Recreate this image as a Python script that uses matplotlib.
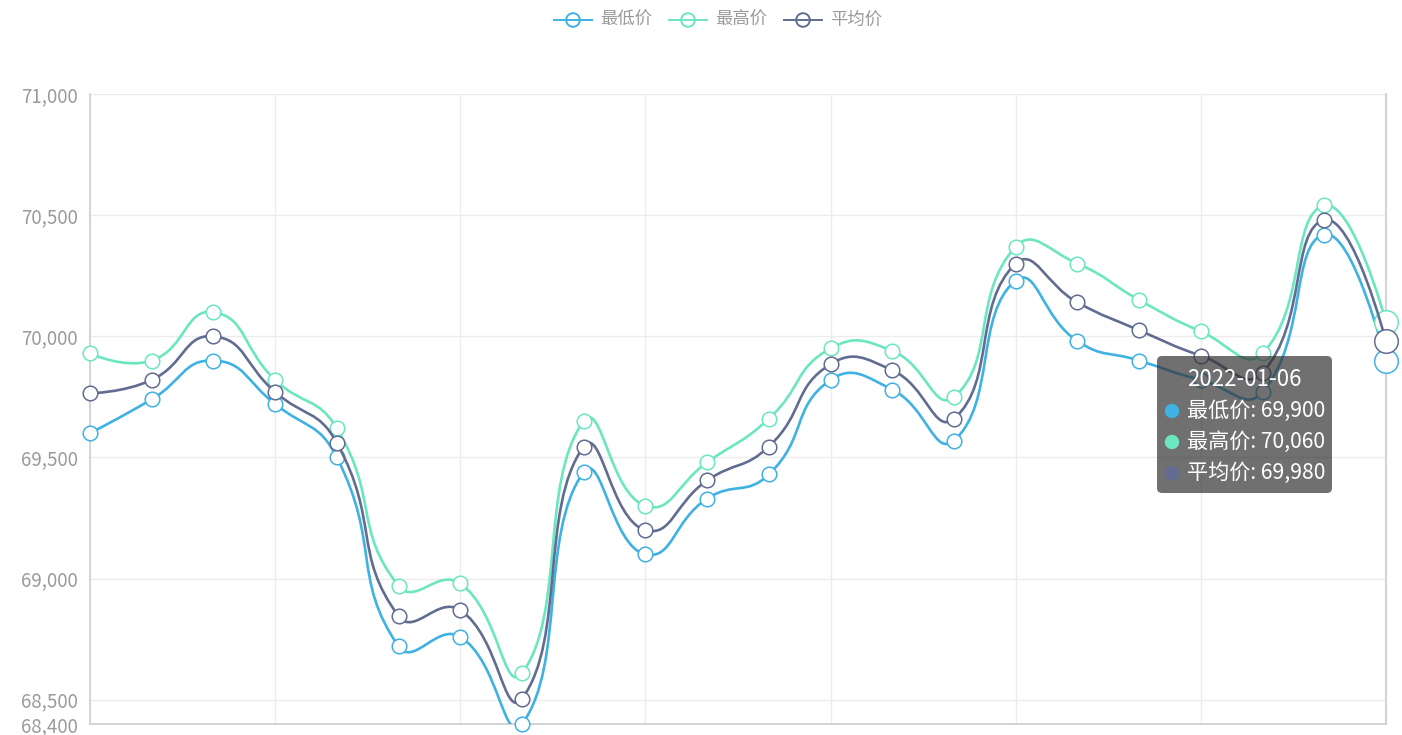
import numpy as np
import matplotlib
matplotlib.use('Agg')
import matplotlib.pyplot as plt
from matplotlib.path import Path
from matplotlib.patches import PathPatch, FancyBboxPatch, Circle
from matplotlib.lines import Line2D
from matplotlib.transforms import IdentityTransform
from matplotlib.ticker import FuncFormatter

plt.rcParams['font.family'] = ['Noto Sans CJK SC', 'DejaVu Sans']

# data
dates = ['2021-12-16', '2021-12-17', '2021-12-18', '2021-12-19', '2021-12-20', '2021-12-21',
         '2021-12-22', '2021-12-23', '2021-12-24', '2021-12-25', '2021-12-26', '2021-12-27',
         '2021-12-28', '2021-12-29', '2021-12-30', '2021-12-31', '2022-01-01', '2022-01-02',
         '2022-01-03', '2022-01-04', '2022-01-05', '2022-01-06']
low = [69600, 69740, 69900, 69720, 69500, 68720, 68760, 68400, 69440, 69100, 69330,
       69430, 69820, 69780, 69570, 70230, 69980, 69900, 69820, 69770, 70420, 69900]
high = [69930, 69900, 70100, 69820, 69620, 68970, 68980, 68610, 69650, 69300, 69480,
        69660, 69950, 69940, 69750, 70370, 70300, 70150, 70020, 69930, 70540, 70060]
avg = [69765, 69820, 70000, 69770, 69560, 68845, 68870, 68505, 69545, 69200, 69405,
       69545, 69885, 69860, 69660, 70300, 70140, 70025, 69920, 69850, 70480, 69980]
names = ['最低价', '最高价', '平均价']
colors = ['#3fb1e3', '#6be6c1', '#626c91']
hover = 21

W, H = 1402, 735
fig = plt.figure(figsize=(W / 100, H / 100), dpi=100)
ax = fig.add_axes([90 / W, 1 - 724 / H, (1386 - 90) / W, (724 - 94) / H])
x = np.arange(len(dates))
ax.set_xlim(0, len(dates) - 1)
ax.set_ylim(68400, 71000)


def smooth_path(xs, ys, smooth=0.5):
    # echarts style bezier smoothing, computed in pixel space
    pts = ax.transData.transform(np.column_stack([xs, ys]))
    verts = [pts[0]]
    codes = [Path.MOVETO]
    cp0 = pts[0]
    n = len(pts)
    for k in range(1, n):
        p, prev = pts[k], pts[k - 1]
        if k == n - 1:
            ncp = p
            v = np.zeros(2)
            r = 0.5
        else:
            nxt = pts[k + 1]
            v = nxt - prev
            l0 = np.hypot(*(p - prev))
            l1 = np.hypot(*(nxt - p))
            r = l1 / (l0 + l1)
            ncp = p - v * smooth * (1 - r)
        verts += [cp0, ncp, p]
        codes += [Path.CURVE4] * 3
        cp0 = p + v * smooth * r
    data = ax.transData.inverted().transform(np.array(verts))
    return Path(data, codes)


for i, (ys, c) in enumerate(zip([low, high, avg], colors)):
    ax.add_patch(PathPatch(smooth_path(x, ys), fill=False, ec=c, lw=1.9,
                           zorder=3 + i * 2, capstyle='round'))
    ax.plot(x[:hover], ys[:hover], 'o', ms=10.5, mfc='white', mec=c, mew=1.1,
            zorder=4 + i * 2, clip_on=False)
    ax.plot(x[hover:], ys[hover:], 'o', ms=17, mfc='white', mec=c, mew=1.1,
            zorder=4 + i * 2, clip_on=False)

# axes styling
ax.set_yticks([68400] + list(range(68500, 71001, 500)))
ax.yaxis.set_major_formatter(FuncFormatter(lambda v, p: f'{int(v):,}'))
ax.set_xticks(range(0, len(dates), 3))
ax.set_xticklabels([])
ax.tick_params(axis='both', length=0, labelsize=13.5, labelcolor='#9a9a9a', pad=8.5)
for yv in range(68500, 71001, 500):
    ax.axhline(yv, color='#ececec', lw=1, zorder=1)
for xv in range(3, len(dates), 3):
    ax.axvline(xv, color='#ececec', lw=1, zorder=1)
for s in ['top']:
    ax.spines[s].set_visible(False)
for s in ['left', 'bottom', 'right']:
    ax.spines[s].set_color('#cccccc')
    ax.spines[s].set_linewidth(1.2)

# legend
pix = IdentityTransform()
for i, (name, c) in enumerate(zip(names, colors)):
    x0 = 554 + i * 115
    yc = H - 20
    fig.add_artist(Line2D([x0, x0 + 38], [yc, yc], color=c, lw=1.4, transform=pix))
    fig.add_artist(Circle((x0 + 19, yc), 6.8, fc='white', ec=c, lw=1.4, transform=pix))
    fig.text((x0 + 46) / W, yc / H, name, fontsize=12.5, color='#9a9a9a',
             ha='left', va='center')

# tooltip
tx0, tx1, ty0, ty1 = 1157, 1332, 356, 493
fig.add_artist(FancyBboxPatch((tx0, H - ty1), tx1 - tx0, ty1 - ty0,
                              boxstyle='round,pad=0,rounding_size=5',
                              fc=(0.2, 0.2, 0.2, 0.7), ec='none', transform=pix,
                              zorder=20))
fig.text((tx0 + tx1) / 2 / W, (H - 379) / H, dates[hover], fontsize=16,
         color='white', ha='center', va='center', zorder=21)
for i, (name, c, ys) in enumerate(zip(names, colors, [low, high, avg])):
    yc = H - (411 + i * 31)
    fig.add_artist(Circle((1172, yc), 7.2, fc=c, ec='none', transform=pix, zorder=21))
    fig.text(1187 / W, yc / H, f'{name}: {ys[hover]:,}', fontsize=15.2,
             color='white', ha='left', va='center', zorder=21)

fig.savefig('out.png', dpi=100)
